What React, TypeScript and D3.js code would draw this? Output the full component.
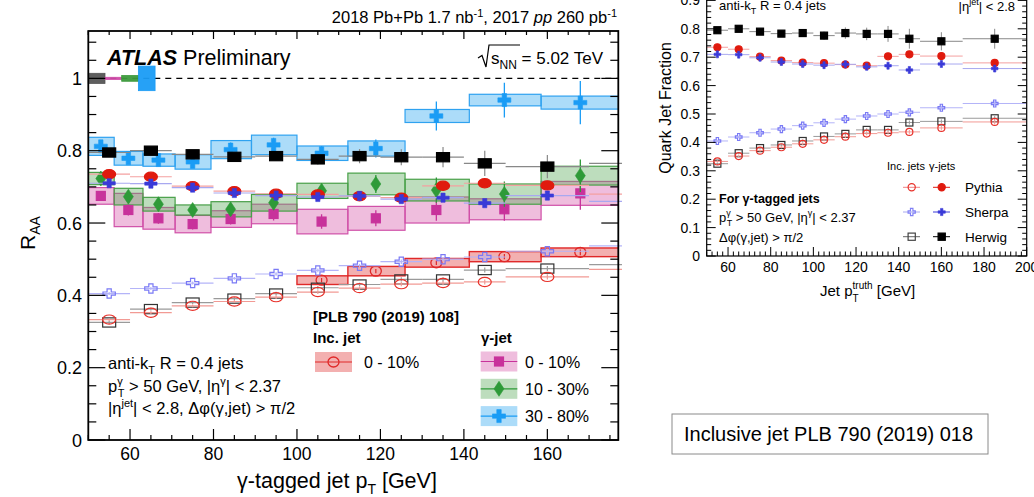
import React from "react";
import * as d3 from "d3";

const FONT = "'Liberation Sans', Arial, Helvetica, sans-serif";

// gamma-tagged jet RAA, log-spaced pT bins [GeV]
const binLo = [50, 56.2, 63.1, 70.8, 79.4, 89.1, 100, 112.2, 125.9, 141.3, 158.5];
const binHi = [56.2, 63.1, 70.8, 79.4, 89.1, 100, 112.2, 125.9, 141.3, 158.5, 177.8];
const binMid = [53, 59.6, 66.8, 75, 84.1, 94.4, 105.9, 118.9, 133.4, 149.7, 167.9];

const raa010 = [0.675, 0.636, 0.613, 0.597, 0.611, 0.625, 0.604, 0.613, 0.636, 0.638, 0.682];
const sys010 = [0.023, 0.046, 0.03, 0.024, 0.023, 0.027, 0.034, 0.033, 0.036, 0.029, 0.033];
const stat010 = [0.012, 0.015, 0.015, 0.015, 0.015, 0.018, 0.02, 0.022, 0.03, 0.032, 0.045];

const raa1030 = [0.723, 0.673, 0.652, 0.636, 0.638, 0.656, 0.689, 0.708, 0.691, 0.68, 0.731];
const sys1030 = [0.017, 0.023, 0.019, 0.014, 0.021, 0.023, 0.021, 0.03, 0.03, 0.028, 0.026];
const stat1030 = [0.012, 0.015, 0.015, 0.015, 0.018, 0.02, 0.02, 0.025, 0.035, 0.035, 0.045];

const raa3080 = [0.812, 0.779, 0.774, 0.769, 0.803, 0.816, 0.793, 0.806, 0.896, 0.94, 0.933];
const sys3080 = [0.025, 0.019, 0.017, 0.02, 0.025, 0.027, 0.02, 0.021, 0.018, 0.016, 0.018];
const stat3080 = [0.015, 0.015, 0.015, 0.015, 0.02, 0.02, 0.02, 0.025, 0.04, 0.048, 0.06];

// inclusive jet RAA 0-10% [PLB 790 (2019) 108]
const incLo = [100, 112.2, 125.9, 141.3, 158.5];
const incHi = [112.2, 125.9, 141.3, 158.5, 177.8];
const incMid = [105.9, 118.9, 133.4, 149.7, 167.9];
const raaInc = [0.442, 0.467, 0.49, 0.507, 0.519];
const sysInc = [0.012, 0.013, 0.012, 0.014, 0.012];
const statInc = [0.006, 0.006, 0.006, 0.007, 0.008];

// normalisation uncertainties at RAA = 1 (pp, 0-10, 10-30, 30-80)
const normLo = [50, 54, 58, 62];
const normHi = [54, 58, 62, 66];
const normUnc = [0.014, 0.003, 0.008, 0.034];
const normColor = ["#555555", "#d04aa8", "#3c9a3c", "#1a9cf5"];

// MC quark jet fractions
const mcX = [55, 65, 75, 85, 95, 105, 115, 125, 135, 145, 160, 185];
const mcLo = [50, 60, 70, 80, 90, 100, 110, 120, 130, 140, 150, 170];
const mcHi = [60, 70, 80, 90, 100, 110, 120, 130, 140, 150, 170, 200];
const herwigGam = [0.795, 0.8, 0.79, 0.783, 0.785, 0.776, 0.785, 0.782, 0.782, 0.765, 0.756, 0.765];
const herwigGamErr = [0.006, 0.008, 0.008, 0.01, 0.012, 0.014, 0.02, 0.022, 0.028, 0.035, 0.032, 0.035];
const pythiaGam = [0.735, 0.728, 0.702, 0.688, 0.681, 0.679, 0.674, 0.67, 0.703, 0.71, 0.704, 0.68];
const pythiaGamErr = [0.005, 0.005, 0.005, 0.006, 0.006, 0.006, 0.007, 0.007, 0.008, 0.008, 0.008, 0.01];
const sherpaGam = [0.71, 0.709, 0.698, 0.683, 0.676, 0.672, 0.675, 0.666, 0.67, 0.655, 0.676, 0.66];
const sherpaGamErr = [0.005, 0.005, 0.006, 0.006, 0.007, 0.007, 0.008, 0.008, 0.009, 0.01, 0.01, 0.012];
const herwigInc = [0.325, 0.362, 0.38, 0.391, 0.405, 0.421, 0.43, 0.444, 0.444, 0.47, 0.474, 0.485];
const pythiaInc = [0.333, 0.352, 0.371, 0.383, 0.395, 0.409, 0.42, 0.431, 0.434, 0.437, 0.451, 0.472];
const sherpaInc = [0.405, 0.419, 0.434, 0.447, 0.459, 0.469, 0.482, 0.493, 0.5, 0.506, 0.522, 0.537];
const incErr = [0.004, 0.004, 0.004, 0.004, 0.005, 0.005, 0.005, 0.006, 0.006, 0.007, 0.007, 0.008];

// tick labels
const raaTicks = [0, 0.2, 0.4, 0.6, 0.8, 1];
const raaTickText = ["0", "0.2", "0.4", "0.6", "0.8", "1"];
const ptTicks = [60, 80, 100, 120, 140, 160];
const qfTicks = [0, 0.1, 0.2, 0.3, 0.4, 0.5, 0.6, 0.7, 0.8, 0.9];
const ptTicksR = [60, 80, 100, 120, 140, 160, 180, 200];

const xL = d3.scaleLinear().domain([50, 177]).range([88.3, 618.3]);
const yL = d3.scaleLinear().domain([0, 1.131]).range([440, 31]);
const xR = d3.scaleLinear().domain([50, 200]).range([706.7, 1026.7]);
const yR = d3.scaleLinear().domain([0, 1]).range([256, -28]);

function Mark({ kind, x, y, rx, ry, color, filled, sw = 1.2 }: any) {
  const fill = filled ? color : "none";
  if (kind === "square")
    return <rect x={x - rx} y={y - ry} width={2 * rx} height={2 * ry} fill={fill} stroke={color} strokeWidth={sw} />;
  if (kind === "circle") return <ellipse cx={x} cy={y} rx={rx} ry={ry} fill={fill} stroke={color} strokeWidth={sw} />;
  let pts: number[][];
  if (kind === "diamond") pts = [[0, -1], [1, 0], [0, 1], [-1, 0]];
  else {
    const a = 0.34;
    pts = [[-a, -1], [a, -1], [a, -a], [1, -a], [1, a], [a, a], [a, 1], [-a, 1], [-a, a], [-1, a], [-1, -a], [-a, -a]];
  }
  const d = "M" + pts.map((p) => `${x + p[0] * rx},${y + p[1] * ry}`).join("L") + "Z";
  return <path d={d} fill={fill} stroke={color} strokeWidth={filled ? 0.6 : sw} />;
}

const gammaSeries = [
  { vals: raa010, sys: sys010, stat: stat010, kind: "square", color: "#c8329b", box: "#d85aaa", edge: "#d050a8", rx: 4.5, ry: 4.5 },
  { vals: raa1030, sys: sys1030, stat: stat1030, kind: "diamond", color: "#2e9a38", box: "#5aaa5a", edge: "#48a048", rx: 5, ry: 7.5 },
  { vals: raa3080, sys: sys3080, stat: stat3080, kind: "cross", color: "#1a9cf5", box: "#30a8f0", edge: "#2fa2f0", rx: 6.5, ry: 6.5 },
];

const mcSeries = [
  { vals: herwigInc, errs: incErr, kind: "square", filled: false, color: "#333333", bar: "#9a9a9a" },
  { vals: pythiaInc, errs: incErr, kind: "circle", filled: false, color: "#e8312a", bar: "#f29a94" },
  { vals: sherpaInc, errs: incErr, kind: "cross", filled: false, color: "#7a7af5", bar: "#b4b4f8" },
  { vals: herwigGam, errs: herwigGamErr, kind: "square", filled: true, color: "#000000", bar: "#888888" },
  { vals: pythiaGam, errs: pythiaGamErr, kind: "circle", filled: true, color: "#e01a0e", bar: "#f4a0a0" },
  { vals: sherpaGam, errs: sherpaGamErr, kind: "cross", filled: true, color: "#3a3ad8", bar: "#a8a8f0" },
];

function McPoints({ xs, ys, rx, ry, sw }: any) {
  return (
    <g>
      {mcSeries.map((s, si) => (
        <g key={si}>
          {s.vals.map((v, i) => (
            <g key={i}>
              <line x1={xs(mcLo[i])} x2={xs(mcHi[i])} y1={ys(v)} y2={ys(v)} stroke={s.bar} strokeWidth={sw} />
              <line x1={xs(mcX[i])} x2={xs(mcX[i])} y1={ys(v - s.errs[i])} y2={ys(v + s.errs[i])} stroke={s.bar} strokeWidth={sw} />
            </g>
          ))}
          {s.vals.map((v, i) => (
            <Mark key={i} kind={s.kind} x={xs(mcX[i])} y={ys(v)} rx={s.kind === "cross" ? rx * 0.95 : rx} ry={ry} color={s.color} filled={s.filled} />
          ))}
        </g>
      ))}
    </g>
  );
}

function range(a: number, b: number, step: number) {
  const out: number[] = [];
  for (let v = a; v <= b + 1e-9; v += step) out.push(+v.toFixed(4));
  return out;
}

function LeftChart() {
  const [x0, x1] = xL.range();
  const y0 = yL(0), yTop = yL(1.131);
  const xt = range(50, 175, 5);
  const yt = range(0, 1.1, 0.05);
  return (
    <g fontFamily={FONT}>
      <defs>
        <clipPath id="clipL"><rect x={x0} y={yTop} width={x1 - x0} height={y0 - yTop} /></clipPath>
        <clipPath id="clipOv"><rect x={x0} y={yTop} width={622 - x0} height={y0 - yTop} /></clipPath>
      </defs>
      <g clipPath="url(#clipL)">
        {gammaSeries.map((s, si) =>
          s.vals.map((v, i) => (
            <rect key={`${si}-${i}`} x={xL(binLo[i])} width={xL(binHi[i]) - xL(binLo[i])} y={yL(v + s.sys[i])}
              height={yL(v - s.sys[i]) - yL(v + s.sys[i])} fill={s.box} fillOpacity={0.4} stroke={s.edge} strokeWidth={1.2} />
          ))
        )}
        {raaInc.map((v, i) => (
          <rect key={i} x={xL(incLo[i])} width={xL(incHi[i]) - xL(incLo[i])} y={yL(v + sysInc[i])}
            height={yL(v - sysInc[i]) - yL(v + sysInc[i])} fill="#e03a3a" fillOpacity={0.4} stroke="#e02828" strokeWidth={1.4} />
        ))}
      </g>
      <line x1={x0} x2={x1} y1={yL(1)} y2={yL(1)} stroke="#000" strokeWidth={1.2} strokeDasharray="6,5" />
      {normUnc.map((u, i) => (
        <rect key={i} x={xL(normLo[i])} width={xL(normHi[i]) - xL(normLo[i])} y={yL(1 + u)} height={Math.max(yL(1 - u) - yL(1 + u), 1.5)}
          fill={normColor[i]} fillOpacity={0.95} stroke={normColor[i]} strokeWidth={0.8} />
      ))}
      <g clipPath="url(#clipL)">
        {gammaSeries.map((s, si) => (
          <g key={si}>
            {s.vals.map((v, i) => (
              <line key={i} x1={xL(binMid[i])} x2={xL(binMid[i])} y1={yL(v - s.stat[i])} y2={yL(v + s.stat[i])} stroke={s.color} strokeWidth={1.3} />
            ))}
            {s.vals.map((v, i) => (
              <Mark key={i} kind={s.kind} x={xL(binMid[i])} y={yL(v)} rx={s.rx} ry={s.ry} color={s.color} filled />
            ))}
          </g>
        ))}
        {raaInc.map((v, i) => (
          <g key={i}>
            <line x1={xL(incMid[i])} x2={xL(incMid[i])} y1={yL(v - statInc[i])} y2={yL(v + statInc[i])} stroke="#e02828" strokeWidth={1.2} />
            <Mark kind="circle" x={xL(incMid[i])} y={yL(v)} rx={5.5} ry={5} color="#e02828" filled={false} sw={1.3} />
          </g>
        ))}
      </g>
      <g clipPath="url(#clipOv)">
        <McPoints xs={xL} ys={yL} rx={6.5} ry={4.6} sw={1.2} />
      </g>
      {/* frame and ticks */}
      <rect x={x0} y={yTop} width={x1 - x0} height={y0 - yTop} fill="none" stroke="#000" strokeWidth={1.8} />
      {xt.map((t) => {
        const big = t % 20 === 0;
        const L = big ? 11 : 5;
        return (
          <g key={t} stroke="#000" strokeWidth={1.2}>
            <line x1={xL(t)} x2={xL(t)} y1={y0} y2={y0 - L} />
            <line x1={xL(t)} x2={xL(t)} y1={yTop} y2={yTop + (big ? 8 : 4)} />
          </g>
        );
      })}
      {yt.map((t) => {
        const big = Math.abs(t / 0.2 - Math.round(t / 0.2)) < 1e-6;
        const L = big ? 17 : 8;
        return (
          <g key={t} stroke="#000" strokeWidth={1.2}>
            <line x1={x0} x2={x0 + L} y1={yL(t)} y2={yL(t)} />
            <line x1={x1} x2={x1 - L} y1={yL(t)} y2={yL(t)} />
          </g>
        );
      })}
      {raaTicks.map((t, i) => (
        <text key={t} x={82} y={yL(t) + 6.5} textAnchor="end" fontSize={18}>{raaTickText[i]}</text>
      ))}
      {ptTicks.map((t) => (
        <text key={t} x={xL(t)} y={460} textAnchor="middle" fontSize={17.5}>{t}</text>
      ))}
      <text transform={`translate(35,233) rotate(-90)`} textAnchor="middle" fontSize={21}>
        R<tspan fontSize={14} dy={5}>AA</tspan>
      </text>
      <text x={337} y={488} textAnchor="middle" fontSize={21.5}>
        γ-tagged jet p<tspan fontSize={14} dy={6}>T</tspan><tspan dy={-6}> [GeV]</tspan>
      </text>
      <text x={617} y={23} textAnchor="end" fontSize={16.5}>
        2018 Pb+Pb 1.7 nb<tspan fontSize={11} dy={-6}>-1</tspan><tspan dy={6}>, 2017 </tspan>
        <tspan fontStyle="italic">pp</tspan> 260 pb<tspan fontSize={11} dy={-6}>-1</tspan>
      </text>
      <text x={107} y={65} fontSize={21.5}>
        <tspan fontWeight="bold" fontStyle="italic">ATLAS</tspan> Preliminary
      </text>
      <path d="M478,58 L482,55.5 L486,67 L489,45 L520,45" fill="none" stroke="#000" strokeWidth={1.2} />
      <text x={491} y={64} fontSize={17}>
        s<tspan fontSize={12} dy={5}>NN</tspan><tspan dy={-5}> = 5.02 TeV</tspan>
      </text>
      <text x={108} y={369} fontSize={16.5}>
        anti-k<tspan fontSize={11} dy={5}>T</tspan><tspan dy={-5}> R = 0.4 jets</tspan>
      </text>
      <text x={108} y={392} fontSize={16.5}>
        p<tspan fontSize={11} dy={-7}>γ</tspan><tspan fontSize={11} dx={-5} dy={12}>T</tspan>
        <tspan dy={-5}> &gt; 50 GeV, |η</tspan><tspan fontSize={11} dy={-7}>γ</tspan><tspan dy={7}>| &lt; 2.37</tspan>
      </text>
      <text x={108} y={414} fontSize={16.5}>
        |η<tspan fontSize={11} dy={-7}>jet</tspan><tspan dy={7}>| &lt; 2.8, Δφ(γ,jet) &gt; π/2</tspan>
      </text>
      {/* legend */}
      <text x={313} y={322} fontSize={15} fontWeight="bold">[PLB 790 (2019) 108]</text>
      <text x={313} y={343} fontSize={15} fontWeight="bold">Inc. jet</text>
      <text x={481} y={343} fontSize={15} fontWeight="bold">γ-jet</text>
      <rect x={315} y={352} width={37} height={20} fill="#e03a3a" fillOpacity={0.4} />
      <line x1={315} x2={352} y1={362} y2={362} stroke="#e02828" strokeWidth={1.2} />
      <Mark kind="circle" x={333.5} y={362} rx={5.5} ry={5} color="#e02828" filled={false} sw={1.3} />
      <text x={364} y={368} fontSize={16}>0 - 10%</text>
      {gammaSeries.map((s, i) => {
        const cy = 361.5 + i * 27.3;
        return (
          <g key={i}>
            <rect x={480.7} y={cy - 10} width={36.6} height={20} fill={s.box} fillOpacity={0.4} />
            <line x1={480.7} x2={517.3} y1={cy} y2={cy} stroke={s.color} strokeWidth={1.2} />
            <Mark kind={s.kind} x={499} y={cy} rx={s.rx} ry={s.ry} color={s.color} filled />
            <text x={525} y={cy + 6} fontSize={16}>{["0 - 10%", "10 - 30%", "30 - 80%"][i]}</text>
          </g>
        );
      })}
    </g>
  );
}

function RightChart() {
  const [x0, x1] = xR.range();
  const y0 = yR(0), yTop = -20;
  const xt = range(50, 200, 2.5);
  const yt = range(0, 0.98, 0.02);
  const legend = [
    { name: "Pythia", kind: "circle", open: "#e8312a", full: "#e01a0e", line: "#f08080" },
    { name: "Sherpa", kind: "cross", open: "#8080f5", full: "#3a3ad8", line: "#a8a8f0" },
    { name: "Herwig", kind: "square", open: "#444444", full: "#000000", line: "#666666" },
  ];
  return (
    <g fontFamily={FONT}>
      <defs>
        <clipPath id="clipR"><rect x={x0} y={yTop} width={x1 - x0} height={y0 - yTop} /></clipPath>
      </defs>
      <g clipPath="url(#clipR)">
        <McPoints xs={xR} ys={yR} rx={3.5} ry={3.5} sw={1} />
      </g>
      <rect x={x0} y={yTop} width={x1 - x0} height={y0 - yTop} fill="none" stroke="#000" strokeWidth={1.2} />
      {xt.map((t) => {
        const big = t % 20 === 0;
        return <line key={t} x1={xR(t)} x2={xR(t)} y1={y0} y2={y0 - (big ? 9 : 4.5)} stroke="#000" strokeWidth={1} />;
      })}
      {yt.map((t) => {
        const big = Math.abs(t * 10 - Math.round(t * 10)) < 1e-6;
        const L = big ? 9 : 4.5;
        return (
          <g key={t} stroke="#000" strokeWidth={1}>
            <line x1={x0} x2={x0 + L} y1={yR(t)} y2={yR(t)} />
            <line x1={x1} x2={x1 - L} y1={yR(t)} y2={yR(t)} />
          </g>
        );
      })}
      {qfTicks.map((t) => (
        <text key={t} x={700} y={yR(t) + 5} textAnchor="end" fontSize={14}>{t === 0 ? "0" : t.toFixed(1)}</text>
      ))}
      {ptTicksR.map((t) => (
        <text key={t} x={xR(t)} y={272} textAnchor="middle" fontSize={14}>{t}</text>
      ))}
      <text transform="translate(671,108) rotate(-90)" textAnchor="middle" fontSize={16}>Quark Jet Fraction</text>
      <text x={820} y={296} fontSize={15}>
        Jet p<tspan fontSize={10} dy={-7}>truth</tspan><tspan fontSize={10} dx={-20} dy={13}>T</tspan>
        <tspan dx={14} dy={-6}> [GeV]</tspan>
      </text>
      <text x={719} y={10} fontSize={13}>
        anti-k<tspan fontSize={9} dy={4}>T</tspan><tspan dy={-4}> R = 0.4 jets</tspan>
      </text>
      <text x={1015} y={11} textAnchor="end" fontSize={13}>
        |η<tspan fontSize={9} dy={-6}>jet</tspan><tspan dy={6}>| &lt; 2.8</tspan>
      </text>
      <text x={719} y={203} fontSize={12.5} fontWeight="bold">For  γ-tagged jets</text>
      <text x={719} y={222} fontSize={13}>
        p<tspan fontSize={9} dy={-6}>γ</tspan><tspan fontSize={9} dx={-4} dy={10}>T</tspan>
        <tspan dy={-4}> &gt; 50 GeV, |η</tspan><tspan fontSize={9} dy={-6}>γ</tspan><tspan dy={6}>| &lt; 2.37</tspan>
      </text>
      <text x={719} y={242} fontSize={13}>Δφ(γ,jet) &gt; π/2</text>
      <text x={887} y={170} fontSize={11}>Inc. jets</text>
      <text x={929} y={170} fontSize={11}>γ-jets</text>
      {legend.map((l, i) => {
        const cy = 187.3 + i * 24.7;
        return (
          <g key={l.name}>
            <line x1={903} x2={920} y1={cy} y2={cy} stroke={l.line} strokeWidth={1} />
            <Mark kind={l.kind} x={911.7} y={cy} rx={3.6} ry={3.6} color={l.open} filled={false} />
            <line x1={933} x2={950} y1={cy} y2={cy} stroke={l.full} strokeWidth={1} />
            <Mark kind={l.kind} x={941.7} y={cy} rx={3.6} ry={3.6} color={l.full} filled />
            <text x={965} y={cy + 5} fontSize={13.5}>{l.name}</text>
          </g>
        );
      })}
      <rect x={672} y={414} width={316} height={40} fill="#fff" stroke="#8a8a8a" strokeWidth={1} />
      <text x={684} y={441} fontSize={20}>Inclusive jet PLB 790 (2019) 018</text>
    </g>
  );
}

export default function App() {
  return (
    <svg width={1034} height={497} viewBox="0 0 1034 497" style={{ position: "absolute", left: 0, top: 0, background: "#fff" }}>
      <rect width={1034} height={497} fill="#fff" />
      <LeftChart />
      <RightChart />
    </svg>
  );
}
